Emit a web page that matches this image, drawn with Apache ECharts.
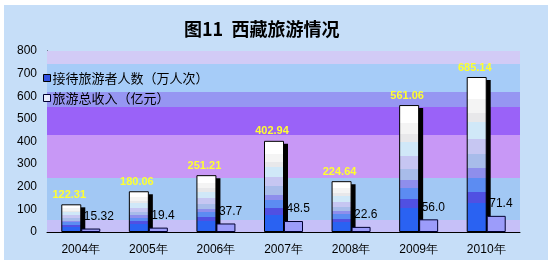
<!DOCTYPE html>
<html><head><meta charset="utf-8">
<script src="https://cdn.jsdelivr.net/npm/echarts@6/dist/echarts.min.js"></script>
<style>html,body{margin:0;padding:0;background:#fff}#c{width:555px;height:268px}</style>
</head><body><div id="c"></div>
<script>
var categories = ['2004年','2005年','2006年','2007年','2008年','2009年','2010年'];
var visitors = [122.31, 180.06, 251.21, 402.94, 224.64, 561.06, 685.14];
var revenue = [15.32, 19.4, 37.7, 48.5, 22.6, 56.0, 71.4];
var revenueLabels = ['15.32','19.4','37.7','48.5','22.6','56.0','71.4'];
var yTicks = [0,100,200,300,400,500,600,700,800];
var bandEdges = [0, 53, 239, 429, 552, 619, 742, 800];
var bandColors = ['#c6c0f8','#a2c8f4','#c898f6','#9a62f8','#9696f2','#a6ccf8','#d2cbf6'];
var seriesNames = ['接待旅游者人数（万人次）','旅游总收入（亿元）'];

var stops = [
 ['#ffffff',0],['#ffffff',0.14],['#f4f4f4',0.14],['#f4f4f4',0.23],['#e8e8ea',0.23],['#e8e8ea',0.29],
 ['#d0e8f8',0.29],['#d0e8f8',0.40],['#c6c6f2',0.40],['#c6c6f2',0.50],['#a8bcea',0.50],['#a8bcea',0.59],
 ['#8e8eec',0.59],['#8e8eec',0.65],['#5c8cf2',0.65],['#5c8cf2',0.74],['#5050e2',0.74],['#5050e2',0.81],
 ['#2a62f2',0.81],['#2a62f2',1]
];
var barGrad = new echarts.graphic.LinearGradient(0,0,0,1, stops.map(function(s){return {offset:s[1], color:s[0]};}));

var bands = [];
for (var i=0;i<bandColors.length;i++){
  bands.push([{yAxis:bandEdges[i], itemStyle:{color:bandColors[i]}},{yAxis:bandEdges[i+1]}]);
}

var chart = echarts.init(document.getElementById('c'), null, {renderer:'canvas'});
chart.setOption({
  backgroundColor:'#ffffff',
  animation:false,
  graphic:[{type:'rect', z:-10, shape:{x:4,y:5,width:544,height:255}, style:{fill:'#c6def8'}}],
  title:{text:'图11  西藏旅游情况', left:179, top:15,
    textStyle:{fontFamily:'Noto Sans CJK SC', fontSize:18, fontWeight:'bold', color:'#000'}},
  legend:{orient:'vertical', left:38, top:66, itemWidth:7, itemHeight:7, itemGap:6,
    textStyle:{fontFamily:'Noto Sans CJK SC', fontSize:13, lineHeight:14, color:'#000', padding:[0,0,0,-3]},
    data:[{name:seriesNames[0], icon:'rect', itemStyle:{color:'#3050e0', borderColor:'#000', borderWidth:1}},
          {name:seriesNames[1], icon:'rect', itemStyle:{color:'#e8ecfc', borderColor:'#000030', borderWidth:1}}]},
  grid:{left:47, right:35, top:51, bottom:36},
  xAxis:{type:'category', data:categories, boundaryGap:true,
    axisLine:{lineStyle:{color:'#000', width:1}},
    axisTick:{inside:true, length:3, lineStyle:{color:'#000'}},
    axisLabel:{fontFamily:'Liberation Sans', fontSize:12, color:'#000', margin:12}},
  yAxis:{type:'value', min:0, max:800, interval:100,
    axisLine:{show:true, lineStyle:{color:'#000', width:1}},
    axisTick:{show:true, inside:true, length:3, lineStyle:{color:'#000'}},
    splitLine:{show:false},
    axisLabel:{fontFamily:'Liberation Sans', fontSize:12, color:'#000', margin:10}},
  series:[
    {type:'line', name:'bands', data:categories.map(function(){return null;}), symbol:'none', silent:true, z:1,
      markArea:{silent:true, data:bands}},
    {type:'custom', name:'shadow', data:visitors, z:2, silent:true,
      renderItem:function(params, api){
        var top = api.coord([api.value(0), api.value(1)]);
        var base = api.coord([api.value(0), 0]);
        var cx = base[0];
        return {type:'rect', shape:{x:cx-15.5, y:top[1]+3, width:20, height:base[1]-top[1]-3},
          style:{fill:'#000'}};
      },
      encode:{x:0, y:1}},
    {type:'bar', name:seriesNames[0], data:visitors, barWidth:20, barGap:'0%', z:3,
      itemStyle:{color:barGrad, borderColor:'#000', borderWidth:1},
      label:{show:true, position:'top', distance:4, offset:[-2,0], color:'#ffff30', fontWeight:'bold',
        fontFamily:'Liberation Sans', fontSize:11}},
    {type:'bar', name:seriesNames[1], data:revenue, barWidth:19, z:4,
      itemStyle:{color:'#9c9cfa', borderColor:'#000030', borderWidth:1},
      label:{show:true, position:'top', distance:6, align:'left', offset:[-7,0], color:'#000',
        fontFamily:'Liberation Sans', fontSize:12,
        formatter:function(p){return revenueLabels[p.dataIndex];}}}
  ]
});
</script></body></html>
